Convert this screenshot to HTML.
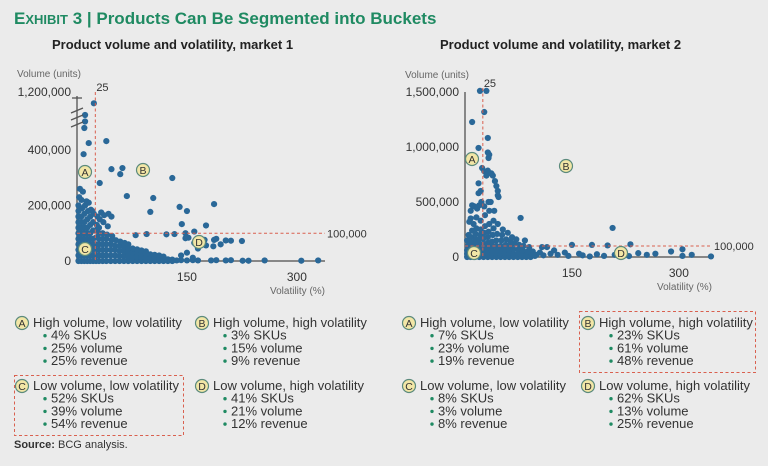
<!DOCTYPE html>
<html><head><meta charset="utf-8">
<style>
html,body{margin:0;padding:0;background:#ebebeb;}
body{width:768px;height:461px;overflow:hidden;font-family:"Liberation Sans",sans-serif;}
svg text{font-family:"Liberation Sans",sans-serif;}
</style></head>
<body>
<svg id="root" width="768" height="461" viewBox="0 0 768 461">
<rect width="768" height="461" fill="#ebebeb"/>
<text x="14" y="24" fill="#1f8a62" font-weight="bold"><tspan font-size="17">E</tspan><tspan font-size="13">XHIBIT</tspan><tspan font-size="17"> 3 | Products Can Be Segmented into Buckets</tspan></text>
<text x="52" y="49" font-size="13" font-weight="bold" fill="#222">Product volume and volatility, market 1</text>
<text x="440" y="49" font-size="13" font-weight="bold" fill="#222">Product volume and volatility, market 2</text>
<g id="c1"></g>
<g id="c2"></g>
<g id="legend"></g>
<text x="14" y="448" font-size="11" fill="#333"><tspan font-weight="bold">Source:</tspan> BCG analysis.</text>
</svg>
<script>
// ---- Chart 1 data: [volatility %, volume in thousands] ----
const c1Points = [
[23,1180],[11,1000],[11,900],[10,800],[16,425],[9,385],[40,432],[31,281],[47,331],[59,313],[62,335],[68,234],[104,227],[100,177],[130,299],[140,195],[150,180],[187,205],[143,133],[176,128],[160,106],[148,100],[133,97],[122,96],[95,97],[80,93],[148,82],[152,84],[174,76],[187,76],[190,80],[203,74],[210,73],[225,72],[196,60],[172,65],[160,65],[176,56],[186,53],[183,2],[190,3],[203,2],[210,3],[226,1],[234,1],[256,2],[306,1],[329,2],
[2,0],[2,20],[2,40],[2,60],[2,80],[2,100],[2,120],[2,140],[2,160],[2,180],[2,200],[3,230],[4,260],
[6,0],[6,20],[6,40],[6,60],[6,80],[6,100],[6,120],[6,140],[6,160],[7,190],[6,220],[8,250],
[10,0],[10,20],[10,40],[10,60],[10,80],[10,100],[10,120],[10,140],[10,170],[11,200],[13,215],
[14,0],[14,20],[14,40],[14,60],[14,80],[14,100],[14,120],[14,150],[15,180],[16,210],
[18,0],[18,20],[18,40],[18,60],[18,80],[18,100],[18,130],[18,160],[19,185],
[22,0],[22,20],[22,40],[22,60],[22,80],[22,110],[22,140],[23,170],[21,180],
[26,0],[26,20],[26,40],[26,60],[26,85],[26,110],[27,130],[28,160],
[30,0],[30,20],[30,40],[30,60],[30,80],[30,100],[30,120],[31,150],[33,175],
[35,0],[35,20],[35,40],[35,60],[35,80],[35,100],[36,140],[37,165],
[40,0],[40,20],[40,40],[40,60],[40,80],[41,95],[42,125],[43,170],
[46,0],[46,20],[46,40],[46,60],[47,75],[48,90],[47,160],
[52,0],[52,20],[52,40],[52,55],[53,75],
[58,0],[58,18],[58,36],[58,55],[59,70],
[64,0],[64,18],[64,35],[64,50],[65,65],
[70,0],[70,15],[70,30],[70,45],[70,60],
[76,0],[76,15],[76,30],[76,45],
[82,0],[82,15],[82,30],[82,42],
[88,0],[88,14],[88,28],[88,38],
[94,0],[94,12],[94,25],[94,35],
[100,0],[100,12],[100,24],
[106,0],[106,10],[106,22],
[112,0],[112,10],[112,20],
[118,0],[118,8],[118,16],
[124,0],[124,6],[130,0],[130,5],[136,2],[142,3],[142,20],[150,2],[150,30],[158,3],[158,12],[165,2],[165,45]
];
const c1YTicks = [0,200,400];
const c1YTickLabels = ["0","200,000","400,000"];
const c1XTicks = [150,300];
const c1XTickLabels = ["150","300"];

// ---- Chart 2 data: [volatility %, volume in thousands] ----
const c2Points = [
[21,1510],[30,1510],[27,1318],[10,1227],[32,1082],[19,991],[32,950],[34,930],[33,900],[24,809],[27,780],[32,785],[37,760],[30,740],[39,740],[42,690],[44,645],[46,600],[46,560],[19,670],[22,600],[19,580],[47,545],[33,500],[36,500],[23,500],[10,470],[13,460],[17,440],[20,470],[27,460],[8,420],[78,355],[207,264],
[150,110],[178,110],[200,105],[232,115],[289,50],[305,70],[318,20],[345,5],[305,10],[267,30],[255,20],[243,35],[220,15],[230,8],[210,20],[195,10],[185,25],[175,5],[165,15],[160,30],[145,10],[140,40],[130,20],[125,60],[120,30],[115,90],[110,15],[108,90],[105,40],[100,20],[95,50],
[3,0],[3,30],[3,60],[4,100],[3,150],[5,200],[6,320],[8,350],
[8,0],[8,30],[8,60],[8,90],[9,130],[9,180],[10,240],[12,300],
[14,0],[14,30],[14,60],[14,90],[14,120],[15,160],[15,210],[16,260],[16,360],
[20,0],[20,30],[20,60],[20,90],[20,120],[20,160],[21,200],[22,250],[22,330],
[26,0],[26,30],[26,60],[26,90],[26,120],[26,170],[27,220],[28,280],[28,380],
[32,0],[32,30],[32,60],[32,90],[32,130],[32,180],[33,230],[34,300],[34,420],
[38,0],[38,30],[38,60],[38,100],[38,140],[39,200],[40,260],[40,330],[41,420],
[44,0],[44,30],[44,60],[44,100],[44,150],[45,210],[46,300],
[50,0],[50,30],[50,60],[50,100],[51,150],[52,200],[53,250],
[56,0],[56,30],[56,70],[57,110],[58,160],[60,220],
[62,0],[62,30],[62,60],[63,100],[64,140],[66,180],
[68,0],[68,30],[68,70],[70,120],[72,160],
[74,0],[74,30],[75,70],[76,110],
[80,0],[80,25],[81,60],[82,100],[84,150],
[86,0],[86,20],[88,50],[90,90],
[92,0],[94,30],[98,10]
];
const c2YTicks = [0,500,1000,1500];
const c2YTickLabels = ["0","500,000","1,000,000","1,500,000"];
const c2XTicks = [150,300];
const c2XTickLabels = ["150","300"];

const NS = "http://www.w3.org/2000/svg";
function mk(parent, tag, attrs){
  const e = document.createElementNS(NS, tag);
  for (const k in attrs) e.setAttribute(k, attrs[k]);
  parent.appendChild(e); return e;
}
function txt(parent, x, y, s, size, anchor, fill){
  const t = mk(parent, "text", {x:x, y:y, "font-size":size, "text-anchor":anchor||"start", fill:fill||"#333"});
  t.textContent = s; return t;
}
function badge(parent, cx, cy, letter){
  const g = mk(parent, "g", {});
  
  
  mk(g, "circle", {cx:cx, cy:cy, r:6.5, fill:"#f2e6a6", stroke:"#5b8a7c", "stroke-width":1.2});
  txt(g, cx, cy+4, letter, 10.5, "middle", "#333");
  return g;
}

function drawChart(g, cfg){
  const xs = v => cfg.x0 + v*cfg.kx;
  const ys = cfg.ys;
  const ya = mk(g, "line", {x1:cfg.x0, y1:cfg.yTop, x2:cfg.x0, y2:ys(0), stroke:"#666", "stroke-width":1.5});
  
  
  const xa = mk(g, "line", {x1:cfg.x0, y1:ys(0), x2:cfg.xEnd, y2:ys(0), stroke:"#666", "stroke-width":1.5});
  
  
  cfg.points.forEach(p => {
    const c = mk(g, "circle", {cx:xs(p[0]), cy:ys(p[1]), r:3.1, fill:"#2a6898"});
    
    
  });
  const vl = mk(g, "line", {x1:xs(25), y1:cfg.yTop-4, x2:xs(25), y2:ys(0), stroke:"#d9604f", "stroke-width":1, "stroke-dasharray":"3,2.5"});
  
  
  const hl = mk(g, "line", {x1:cfg.x0, y1:ys(100), x2:cfg.hlEnd, y2:ys(100), stroke:"#d9604f", "stroke-width":1, "stroke-dasharray":"3,2.5"});
  
  
  const t25 = txt(g, xs(25)+1, cfg.yTop-5, "25", 11, "start", "#333");
  
  
  const t100 = txt(g, cfg.hlEnd+2, ys(100)+4, "100,000", 11, "start", "#333");
  
  
  cfg.yTicks.forEach((v,i) => {
    const t = txt(g, cfg.x0-6, ys(v)+4, cfg.yTickLabels[i], 12, "end", "#333");
    
    
  });
  cfg.xTicks.forEach((v,i) => {
    const t = txt(g, xs(v), ys(0)+20, cfg.xTickLabels[i], 12, "middle", "#333");
    
    
  });
  const yt = txt(g, cfg.x0-60, cfg.yTitleY, "Volume (units)", 10, "start", "#666");
  
  
  const xt = txt(g, cfg.xEnd, ys(0)+33, "Volatility (%)", 10, "end", "#666");
  
  
  cfg.badges.forEach(b => badge(g, b[0], b[1], b[2]));
}

const c1y = v => v <= 450 ? 261 - v*0.2775 : 128 - (v-800)/400*26;
const g1 = document.getElementById("c1");
drawChart(g1, {x0:77, kx:0.733, xEnd:325, hlEnd:325, yTop:96, ys:c1y, points:c1Points,
  yTicks:c1YTicks, yTickLabels:c1YTickLabels, xTicks:c1XTicks, xTickLabels:c1XTickLabels, yTitleY:77,
  badges:[[85,172,"A"],[143,170,"B"],[85,249,"C"],[199,242,"D"]]});
const topLbl = txt(g1, 71, 96, "1,200,000", 12, "end", "#333");


[110,117,124].forEach(y => {
  const l = mk(g1, "line", {x1:71, y1:y+3, x2:83, y2:y-2, stroke:"#555", "stroke-width":1.3});
  
  
});
mk(g1, "line", {x1:72, y1:98, x2:82, y2:98, stroke:"#555", "stroke-width":1.3});

const c2y = v => 257 - v*0.11;
drawChart(document.getElementById("c2"), {x0:465, kx:0.713, xEnd:712, hlEnd:712, yTop:92, ys:c2y, points:c2Points,
  yTicks:c2YTicks, yTickLabels:c2YTickLabels, xTicks:c2XTicks, xTickLabels:c2XTickLabels, yTitleY:78,
  badges:[[472,159,"A"],[566,166,"B"],[474,253,"C"],[621,253,"D"]]});

const legendItems = [
 [22,327,"A","High volume, low volatility",["4% SKUs","25% volume","25% revenue"]],
 [202,327,"B","High volume, high volatility",["3% SKUs","15% volume","9% revenue"]],
 [22,390,"C","Low volume, low volatility",["52% SKUs","39% volume","54% revenue"]],
 [202,390,"D","Low volume, high volatility",["41% SKUs","21% volume","12% revenue"]],
 [409,327,"A","High volume, low volatility",["7% SKUs","23% volume","19% revenue"]],
 [588,327,"B","High volume, high volatility",["23% SKUs","61% volume","48% revenue"]],
 [409,390,"C","Low volume, low volatility",["8% SKUs","3% volume","8% revenue"]],
 [588,390,"D","Low volume, high volatility",["62% SKUs","13% volume","25% revenue"]]
];
const lg = document.getElementById("legend");
legendItems.forEach(it => {
  const g = mk(lg, "g", {});
  
  
  badge(g, it[0], it[1]-4, it[2]);
  txt(g, it[0]+11, it[1], it[3], 13, "start", "#333");
  it[4].forEach((s,i) => {
    const y = it[1] + 12.7*(i+1);
    mk(g, "circle", {cx:it[0]+23, cy:y-4, r:1.7, fill:"#1f8a62"});
    txt(g, it[0]+29, y, s, 13, "start", "#333");
  });
});
const b1 = mk(lg, "rect", {x:14.5, y:375.5, width:169, height:60, fill:"none", stroke:"#d9604f", "stroke-width":1, "stroke-dasharray":"3,2.5"});


const b2 = mk(lg, "rect", {x:579.5, y:311.5, width:176, height:61, fill:"none", stroke:"#d9604f", "stroke-width":1, "stroke-dasharray":"3,2.5"});


</script>
</body></html>
